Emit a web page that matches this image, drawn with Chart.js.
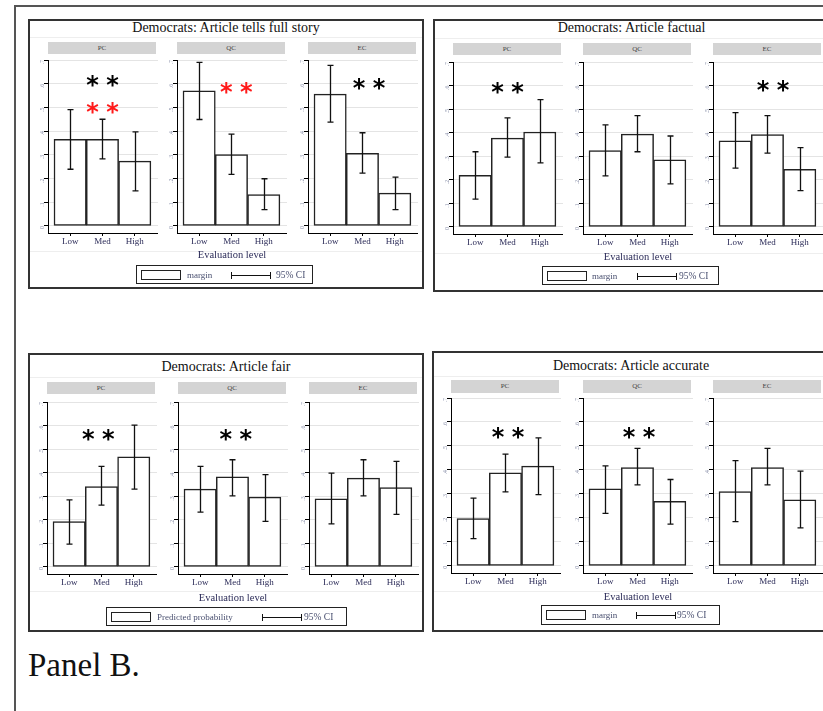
<!DOCTYPE html>
<html>
<head>
<meta charset="utf-8">
<script src="https://cdn.jsdelivr.net/npm/chart.js@4.4.0/dist/chart.umd.min.js"></script>
<style>
  body { margin: 0; width: 823px; height: 711px; overflow: hidden; background: #fff; position: relative; font-family: 'Liberation Serif', 'Times New Roman', serif; }
  .abs { position: absolute; white-space: nowrap; }
  .box { position: absolute; border: 2px solid #333; box-sizing: border-box; }
  canvas { position: absolute; }
</style>
</head>
<body>
<div class="abs" style="left:14px;top:5px;width:900px;height:800px;border-left:2px solid #555;border-top:2px solid #555;"></div>
<div class="abs" style="left:28px;top:647px;font-size:33px;color:#111;">Panel B.</div>
<script>
const categories = ['Low', 'Med', 'High'];
const groups = ['PC', 'QC', 'EC'];
const yTickLabels = ['0', '.1', '.2', '.3', '.4', '.5', '.6', '.7'];
const yTickValues = [0, 0.1, 0.2, 0.3, 0.4, 0.5, 0.6, 0.7];

const panelTitles = [
  'Democrats: Article tells full story',
  'Democrats: Article factual',
  'Democrats: Article fair',
  'Democrats: Article accurate'
];
const legendLabels = ['margin', 'margin', 'Predicted probability', 'margin'];

// estimates per group [PC, QC, EC], each Low / Med / High
const storyMargin = [[0.365, 0.365, 0.273], [0.570, 0.301, 0.132], [0.556, 0.306, 0.138]];
const storyLo     = [[0.239, 0.283, 0.148], [0.449, 0.217, 0.069], [0.438, 0.223, 0.069]];
const storyHi     = [[0.491, 0.450, 0.397], [0.690, 0.387, 0.199], [0.677, 0.393, 0.206]];

const factualMargin = [[0.219, 0.377, 0.403], [0.324, 0.394, 0.285], [0.365, 0.392, 0.245]];
const factualLo     = [[0.118, 0.296, 0.272], [0.217, 0.319, 0.183], [0.250, 0.313, 0.154]];
const factualHi     = [[0.319, 0.463, 0.540], [0.433, 0.472, 0.386], [0.485, 0.472, 0.337]];

const fairMargin = [[0.193, 0.341, 0.467], [0.330, 0.382, 0.296], [0.289, 0.377, 0.337]];
const fairLo     = [[0.097, 0.262, 0.330], [0.233, 0.302, 0.193], [0.183, 0.302, 0.223]];
const fairHi     = [[0.285, 0.427, 0.602], [0.427, 0.455, 0.392], [0.398, 0.455, 0.448]];

const accurateMargin = [[0.197, 0.388, 0.416], [0.321, 0.410, 0.269], [0.310, 0.410, 0.275]];
const accurateLo     = [[0.113, 0.308, 0.297], [0.219, 0.338, 0.174], [0.184, 0.338, 0.158]];
const accurateHi     = [[0.282, 0.466, 0.534], [0.417, 0.490, 0.360], [0.439, 0.490, 0.395]];

// significance stars: [x (category index), y (value), colour]
const storyStars    = [[[1.0, 0.612, '#000'], [1.0, 0.499, '#ff1a1a']], [[1.15, 0.583, '#ff1a1a']], [[1.2, 0.599, '#000']]];
const factualStars  = [[[1.0, 0.590, '#000']], [], [[1.17, 0.600, '#000']]];
const fairStars     = [[[0.9, 0.560, '#000']], [[1.1, 0.560, '#000']], []];
const accurateStars = [[[1.08, 0.552, '#000']], [[1.05, 0.552, '#000']], []];

const panelData = [
  { margin: storyMargin, lo: storyLo, hi: storyHi, stars: storyStars },
  { margin: factualMargin, lo: factualLo, hi: factualHi, stars: factualStars },
  { margin: fairMargin, lo: fairLo, hi: fairHi, stars: fairStars },
  { margin: accurateMargin, lo: accurateLo, hi: accurateHi, stars: accurateStars }
];

// page geometry of each panel
const layout = [
  { box: [28, 19, 424, 289], titleY: 28, strip: [42, 54], yTop: 60, yZero: 226, axes: [48, 177, 308], evalY: 254, seps: [37, 251],
    legend: { l: 136, t: 265, w: 177, h: 19, text: 51, line: 95, ci: 140 } },
  { box: [433, 19, 830, 292], titleY: 28, strip: [43, 55], yTop: 62, yZero: 227, axes: [453, 583, 713], evalY: 256, seps: [38, 253],
    legend: { l: 542, t: 266, w: 177, h: 19, text: 50, line: 95, ci: 137 } },
  { box: [28, 353, 424, 632], titleY: 367, strip: [382, 394], yTop: 402, yZero: 567, axes: [47, 178, 309], evalY: 597, seps: [377, 591],
    legend: { l: 106, t: 607, w: 241, h: 19, text: 51, line: 156, ci: 198 } },
  { box: [432, 351, 830, 632], titleY: 366, strip: [380, 393], yTop: 398, yZero: 566, axes: [451, 583, 713], evalY: 596, seps: [376, 591],
    legend: { l: 541, t: 605, w: 179, h: 20, text: 51, line: 95, ci: 136 } }
];

const serif = "'Liberation Serif', 'Times New Roman', serif";
const labelColor = '#2b2b58';

function el(tag, cls, css, txt) {
  const d = document.createElement(tag);
  if (cls) d.className = cls;
  Object.assign(d.style, css);
  if (txt !== undefined) d.textContent = txt;
  document.body.appendChild(d);
  return d;
}

function centerText(txt, x, y, css) {
  return el('div', 'abs', Object.assign({ left: x + 'px', top: y + 'px', transform: 'translate(-50%,-50%)' }, css), txt);
}

function makeSubChart(L, D, g) {
  const axisX = L.axes[g];
  const unit = (L.yZero - L.yTop) / 0.7;
  const axisBottom = L.yZero + 0.03 * unit;
  const padTop = 6, yW = 14, xH = 18, plotW = 110, barW = 32.3;
  const xMin = -(6 + barW / 2) / barW;

  const cv = el('canvas', null, { left: (axisX - yW) + 'px', top: (L.yTop - padTop) + 'px' });
  cv.width = yW + plotW;
  cv.height = Math.round(padTop + (axisBottom - L.yTop) + xH);

  const lo = D.lo[g], hi = D.hi[g], stars = D.stars[g];

  const errBars = {
    id: 'errBars',
    afterDatasetsDraw(chart) {
      const { ctx, scales: { x, y } } = chart;
      ctx.save();
      ctx.strokeStyle = '#111';
      ctx.lineWidth = 1.3;
      lo.forEach((l, i) => {
        const px = Math.round(x.getPixelForValue(i)) + 0.5;
        const y1 = y.getPixelForValue(l), y2 = y.getPixelForValue(hi[i]);
        ctx.beginPath();
        ctx.moveTo(px, y1); ctx.lineTo(px, y2);
        ctx.moveTo(px - 3, y1); ctx.lineTo(px + 3, y1);
        ctx.moveTo(px - 3, y2); ctx.lineTo(px + 3, y2);
        ctx.stroke();
      });
      ctx.restore();
    }
  };

  const starMarks = {
    id: 'starMarks',
    afterDraw(chart) {
      const { ctx, scales: { x, y } } = chart;
      ctx.save();
      ctx.font = "bold 24px 'DejaVu Sans'";
      ctx.textAlign = 'center';
      ctx.textBaseline = 'alphabetic';
      const m = ctx.measureText('*');
      const off = (m.actualBoundingBoxAscent - m.actualBoundingBoxDescent) / 2;
      stars.forEach(([sx, sy, col]) => {
        const px = x.getPixelForValue(sx), py = y.getPixelForValue(sy);
        ctx.fillStyle = col;
        ctx.fillText('*', px - 10, py + off);
        ctx.fillText('*', px + 10, py + off);
      });
      ctx.restore();
    }
  };

  new Chart(cv, {
    type: 'bar',
    data: {
      datasets: [{
        data: D.margin[g].map((v, i) => ({ x: i, y: v })),
        backgroundColor: '#fff',
        borderColor: '#222',
        borderWidth: 1.5,
        borderSkipped: false,
        barPercentage: 1,
        categoryPercentage: 1
      }]
    },
    options: {
      responsive: false,
      animation: false,
      events: [],
      layout: { padding: { top: padTop, left: 0, right: 0, bottom: 0 }, autoPadding: false },
      plugins: { legend: { display: false }, tooltip: { enabled: false } },
      scales: {
        x: {
          type: 'linear',
          offset: false,
          min: xMin,
          max: xMin + plotW / barW,
          afterBuildTicks: s => { s.ticks = categories.map((c, i) => ({ value: i })); },
          ticks: { callback: v => categories[v], font: { family: serif, size: 9 }, color: labelColor, padding: 0, maxRotation: 0, autoSkip: false },
          grid: { offset: false, drawOnChartArea: false, tickLength: 3, color: '#000' },
          border: { color: '#000', width: 1 },
          afterFit: s => { s.height = xH; }
        },
        y: {
          min: -0.03,
          max: 0.7,
          afterBuildTicks: s => { s.ticks = yTickValues.map(v => ({ value: v })); },
          ticks: { callback: (v, i) => yTickLabels[i], minRotation: 90, maxRotation: 90, font: { family: serif, size: 6 }, color: '#8a90aa', padding: 2 },
          grid: { color: '#e4e4e4', tickColor: '#000', tickLength: 4, lineWidth: 1 },
          border: { color: '#000', width: 1 },
          afterFit: s => { s.width = yW; }
        }
      }
    },
    plugins: [errBars, starMarks]
  });

  // facet strip
  el('div', 'abs', {
    left: axisX + 'px', top: L.strip[0] + 'px', width: '108px', height: (L.strip[1] - L.strip[0]) + 'px',
    background: '#d4d4d4', font: '7px ' + serif, color: '#444', textAlign: 'center', lineHeight: (L.strip[1] - L.strip[0]) + 'px'
  }, groups[g]);
}

layout.forEach((L, p) => {
  const D = panelData[p];
  const [l, t, r, b] = L.box;
  el('div', 'box', { left: l + 'px', top: t + 'px', width: (r - l) + 'px', height: (b - t) + 'px' });
  L.seps.forEach(sy => el('div', 'abs', { left: (l + 2) + 'px', top: sy + 'px', width: (r - l - 4) + 'px', height: '1px', background: '#eeeeee' }));
  centerText(panelTitles[p], (l + r) / 2, L.titleY, { font: '14px ' + serif, color: '#111' });

  groups.forEach((_, g) => makeSubChart(L, D, g));

  centerText('Evaluation level', L.axes[1] + 55, L.evalY, { font: '10.5px ' + serif, color: labelColor });

  const lg = L.legend;
  el('div', 'box', { left: lg.l + 'px', top: lg.t + 'px', width: lg.w + 'px', height: lg.h + 'px', borderWidth: '1.5px', borderColor: '#222' });
  const midY = lg.t + lg.h / 2;
  el('div', 'abs', { left: (lg.l + 5) + 'px', top: (midY - 5) + 'px', width: '40px', height: '10px', border: '1px solid #222', boxSizing: 'border-box', background: '#fff' });
  el('div', 'abs', { left: (lg.l + lg.text) + 'px', top: (midY - 6) + 'px', font: '9px ' + serif, color: '#4a5070', lineHeight: '12px' }, legendLabels[p]);
  el('div', 'abs', { left: (lg.l + lg.line) + 'px', top: Math.round(midY) + 'px', width: '40px', height: '1px', background: '#111' });
  el('div', 'abs', { left: (lg.l + lg.line) + 'px', top: (Math.round(midY) - 3) + 'px', width: '1px', height: '7px', background: '#111' });
  el('div', 'abs', { left: (lg.l + lg.line + 39) + 'px', top: (Math.round(midY) - 3) + 'px', width: '1px', height: '7px', background: '#111' });
  el('div', 'abs', { left: (lg.l + lg.ci) + 'px', top: (midY - 6) + 'px', font: '9.5px ' + serif, color: '#4a5070', lineHeight: '12px' }, '95% CI');
});
</script>
</body>
</html>
